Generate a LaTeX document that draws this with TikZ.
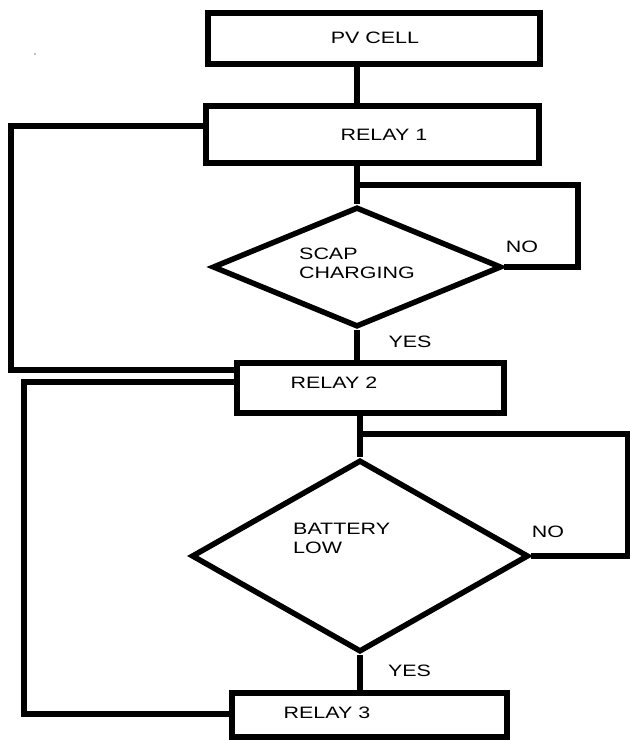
\documentclass[tikz,border=0pt]{standalone}
\usepackage{fontspec}
\setmainfont{Liberation Sans}[FakeStretch=1.3]
\usetikzlibrary{shapes.geometric}
\begin{document}
\begin{tikzpicture}[x=1pt,y=-1pt,
  box/.style={draw, line width=6pt, rectangle, inner sep=0pt},
  dec/.style={draw, line width=5.5pt, diamond, inner sep=0pt, line join=miter},
  lbl/.style={font=\fontsize{16.5}{19}\selectfont, text=black, inner sep=0pt, align=left},
  wire/.style={draw, line width=5.5pt, line join=miter}]
\useasboundingbox (0,0) rectangle (630,740);
\fill[white] (0,0) rectangle (630,740);
% boxes
\node[box, minimum width=332pt, minimum height=51pt] (pv) at (374,38.5) {};
\node[box, minimum width=333pt, minimum height=57pt] (r1) at (372.5,134.5) {};
\node[box, minimum width=267pt, minimum height=50pt] (r2) at (370.5,388) {};
\node[box, minimum width=275pt, minimum height=44pt] (r3) at (369.5,715) {};
% decisions
\node[dec, minimum width=289pt, minimum height=120pt] (d1) at (357,267) {};
\node[dec, minimum width=337pt, minimum height=192pt] (d2) at (360,556) {};
% texts
\node[lbl] (tpv) at (375,38) {PV CELL};
\node[lbl] (tr1) at (384,135) {RELAY 1};
\node[lbl, anchor=west] (td1) at (299,263.5) {SCAP\\CHARGING};
\node[lbl] (tno1) at (522,247) {NO};
\node[lbl] (tyes1) at (410,342) {YES};
\node[lbl] (tr2) at (334,383) {RELAY 2};
\node[lbl, anchor=west] (td2) at (293,538.5) {BATTERY\\LOW};
\node[lbl] (tno2) at (548,532) {NO};
\node[lbl] (tyes2) at (409.5,671) {YES};
\node[lbl] (tr3) at (327,713) {RELAY 3};
% junctions
\coordinate (j1) at (d1.north |- 0,185);
\coordinate (j2) at (d2.north |- 0,434);
% connectors
\draw[wire] (pv.south -| d1.north) -- (r1.north -| d1.north);
\draw[wire] (r1.south -| d1.north) -- (d1.north);
\draw[wire] (d1.east) -- (578,267) |- (j1);
\draw[wire] (d1.south) -- (d1.south |- r2.north);
\draw[wire] (r1.west |- 0,126) -- (11,126) -- (11,370) -- (r2.west |- 0,370);
\draw[wire] (r2.south -| d2.north) -- (d2.north);
\draw[wire] (d2.east) -- (628,556) |- (j2);
\draw[wire] (d2.south) -- (d2.south |- r3.north);
\draw[wire] (r2.west |- 0,382) -- (24,382) -- (24,714) -- (r3.west |- 0,714);
\fill[gray] (35,54) circle (0.8pt);
\end{tikzpicture}
\end{document}
